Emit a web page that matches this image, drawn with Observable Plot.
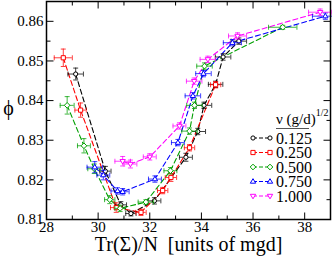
<!DOCTYPE html>
<html><head><meta charset="utf-8">
<script src="https://cdn.jsdelivr.net/npm/d3@7"></script>
<script src="https://cdn.jsdelivr.net/npm/@observablehq/plot@0.6"></script>
<style>
body{margin:0;background:#fff;}
#wrap{position:relative;width:332px;height:258px;overflow:hidden;}
#wrap svg{position:absolute;left:0;top:0;}
</style></head><body><div id="wrap"></div>
<script>
// ---- data ----
const nuLabels = ["0.125", "0.250", "0.500", "0.750", "1.000"];
const seriesColors = ["#000000", "#ff0000", "#00a000", "#0000ff", "#ff00ff"];

const x0125 = [29.13, 30.28, 30.88, 31.27, 32.18, 33.40, 33.86, 34.10, 34.55, 34.84, 35.45];
const y0125 = [0.8467, 0.8222, 0.8137, 0.8115, 0.8147, 0.8257, 0.8322, 0.8388, 0.8441, 0.8510, 0.8550];
const xe0125 = [0.30, 0.22, 0.22, 0.20, 0.25, 0.25, 0.30, 0.30, 0.28, 0.30, 0.30];
const ye0125 = [0.0015, 0.0012, 0.0008, 0.0006, 0.0008, 0.0010, 0.0008, 0.0008, 0.0008, 0.0008, 0.0008];

const x0250 = [28.65, 29.32, 30.70, 31.66, 32.50, 32.82, 33.54, 34.55];
const y0250 = [0.8508, 0.8376, 0.8130, 0.8118, 0.8173, 0.8206, 0.8281, 0.8440];
const xe0250 = [0.35, 0.22, 0.22, 0.20, 0.20, 0.22, 0.20, 0.20];
const ye0250 = [0.0022, 0.0018, 0.0012, 0.0008, 0.0008, 0.0010, 0.0008, 0.0008];

const x0500 = [28.80, 29.45, 29.85, 30.45, 30.85, 31.85, 32.80, 33.54, 33.73, 34.12, 37.15];
const y0500 = [0.8388, 0.8286, 0.8228, 0.8150, 0.8128, 0.8144, 0.8223, 0.8323, 0.8388, 0.8487, 0.8585];
const xe0500 = [0.27, 0.25, 0.25, 0.20, 0.20, 0.30, 0.25, 0.30, 0.30, 0.30, 0.55];
const ye0500 = [0.0022, 0.0018, 0.0012, 0.0010, 0.0008, 0.0006, 0.0008, 0.0008, 0.0008, 0.0008, 0.0005];

const x0750 = [29.87, 30.20, 30.75, 30.95, 32.20, 33.09, 33.67, 34.08, 35.20, 38.80];
const y0750 = [0.8232, 0.8212, 0.8172, 0.8170, 0.8202, 0.8294, 0.8412, 0.8468, 0.8546, 0.8613];
const xe0750 = [0.30, 0.25, 0.25, 0.25, 0.25, 0.25, 0.30, 0.30, 0.35, 0.50];
const ye0750 = [0.0014, 0.0012, 0.0008, 0.0008, 0.0008, 0.0008, 0.0008, 0.0008, 0.0008, 0.0008];

const x1000 = [30.95, 31.25, 32.00, 33.15, 33.72, 34.25, 35.40, 38.60];
const y1000 = [0.8247, 0.8240, 0.8258, 0.8336, 0.8449, 0.8504, 0.8563, 0.8623];
const xe1000 = [0.30, 0.25, 0.25, 0.25, 0.30, 0.30, 0.35, 0.45];
const ye1000 = [0.0012, 0.0010, 0.0008, 0.0008, 0.0008, 0.0008, 0.0008, 0.0008];

const xMajorTicks = [28, 30, 32, 34, 36, 38];
const xMinorTicks = [29, 31, 33, 35, 37, 39];
const yMajorTicks = [0.81, 0.82, 0.83, 0.84, 0.85, 0.86];
const yMinorTicks = [0.815, 0.825, 0.835, 0.845, 0.855, 0.865];
const xTitle = "Tr(Σ)/N  [units of mgd]";
const yTitle = "ϕ";
const legendTitle = "ν (g/d)";
const legendSup = "1/2";

// ---- build table ----
const raw = [
  [x0125, y0125, xe0125, ye0125],
  [x0250, y0250, xe0250, ye0250],
  [x0500, y0500, xe0500, ye0500],
  [x0750, y0750, xe0750, ye0750],
  [x1000, y1000, xe1000, ye1000]
];
const series = raw.map(([xs, ys, xes, yes], i) =>
  xs.map((x, j) => ({s: nuLabels[i], x, y: ys[j], xe: xes[j], ye: yes[j]})));

// ---- symbols ----
const mk = f => ({draw(ctx, size) { const r = Math.sqrt(size / Math.PI); f(ctx, r); }});
const symCircle = mk((c, r) => { c.moveTo(r, 0); c.arc(0, 0, r, 0, 2 * Math.PI); c.closePath(); });
const symSquare = mk((c, r) => { c.rect(-r, -r, 2 * r, 2 * r); });
const symDiamond = mk((c, r) => { r *= 1.35; c.moveTo(0, -r); c.lineTo(r, 0); c.lineTo(0, r); c.lineTo(-r, 0); c.closePath(); });
const symTriUp = mk((c, r) => { r *= 1.35; c.moveTo(0, -r); c.lineTo(r * 0.95, r * 0.6); c.lineTo(-r * 0.95, r * 0.6); c.closePath(); });
const symTriDown = mk((c, r) => { r *= 1.35; c.moveTo(0, r); c.lineTo(r * 0.95, -r * 0.6); c.lineTo(-r * 0.95, -r * 0.6); c.closePath(); });
const symbols = [symCircle, symSquare, symDiamond, symTriUp, symTriDown];
const vSeg = (a, b) => ({draw(c) { c.moveTo(0, a); c.lineTo(0, b); }});
const hSeg = (a, b) => ({draw(c) { c.moveTo(a, 0); c.lineTo(b, 0); }});
const capV = vSeg(-2.5, 2.5), capH = hSeg(-2.5, 2.5);

const dash = "5,3";
const marks = [];
series.forEach((data, i) => {
  const col = seriesColors[i];
  marks.push(Plot.line(data, {x: "x", y: "y", stroke: col, strokeWidth: 1.1, strokeDasharray: dash}));
});
series.forEach((data, i) => {
  const col = seriesColors[i];
  marks.push(
    Plot.ruleY(data, {y: "y", x1: d => d.x - d.xe, x2: d => d.x + d.xe, stroke: col, strokeWidth: 1, strokeOpacity: 0.75}),
    Plot.ruleX(data, {x: "x", y1: d => d.y - d.ye, y2: d => d.y + d.ye, stroke: col, strokeWidth: 1, strokeOpacity: 0.75}),
    Plot.dot(data, {x: d => d.x - d.xe, y: "y", symbol: capV, r: 1, stroke: col, fill: "none", strokeWidth: 1, strokeOpacity: 0.75}),
    Plot.dot(data, {x: d => d.x + d.xe, y: "y", symbol: capV, r: 1, stroke: col, fill: "none", strokeWidth: 1, strokeOpacity: 0.75}),
    Plot.dot(data, {x: "x", y: d => d.y - d.ye, symbol: capH, r: 1, stroke: col, fill: "none", strokeWidth: 1, strokeOpacity: 0.75}),
    Plot.dot(data, {x: "x", y: d => d.y + d.ye, symbol: capH, r: 1, stroke: col, fill: "none", strokeWidth: 1, strokeOpacity: 0.75}),
    Plot.dot(data, {x: "x", y: "y", symbol: symbols[i], r: 2.1, stroke: col, fill: "white", strokeWidth: 1})
  );
});

// inward ticks on all four sides
const tk = (len) => ({
  bottom: vSeg(0, -len), top: vSeg(0, len), left: hSeg(0, len), right: hSeg(0, -len)
});
const T7 = tk(7), T4 = tk(4);
for (const side of ["bottom", "top"]) {
  marks.push(Plot.dot(xMajorTicks, {x: d => d, frameAnchor: side, symbol: T7[side], r: 1, stroke: "black", fill: "none", strokeWidth: 1}));
  marks.push(Plot.dot(xMinorTicks, {x: d => d, frameAnchor: side, symbol: T4[side], r: 1, stroke: "black", fill: "none", strokeWidth: 1}));
}
for (const side of ["left", "right"]) {
  marks.push(Plot.dot(yMajorTicks, {y: d => d, frameAnchor: side, symbol: T7[side], r: 1, stroke: "black", fill: "none", strokeWidth: 1}));
  marks.push(Plot.dot(yMinorTicks, {y: d => d, frameAnchor: side, symbol: T4[side], r: 1, stroke: "black", fill: "none", strokeWidth: 1}));
}
marks.push(
  Plot.frame({stroke: "black", strokeWidth: 1.5}),
  Plot.axisX({ticks: xMajorTicks, tickSize: 0, tickPadding: 2, tickFormat: d => String(d), label: null, fontSize: 15}),
  Plot.axisY({ticks: yMajorTicks, tickSize: 0, tickPadding: 3, tickFormat: d3.format(".2f"), label: null, fontSize: 15}),
  Plot.text([xTitle], {text: d => d, frameAnchor: "bottom", lineAnchor: "middle", textAnchor: "middle", dy: 25, fontSize: 20, fill: "black"}),
  Plot.text([yTitle], {text: d => d, frameAnchor: "left", lineAnchor: "middle", textAnchor: "middle", dx: -38, dy: -2, fontSize: 20, fill: "black"})
);

const chart = Plot.plot({
  width: 332, height: 258,
  marginLeft: 46, marginRight: 2, marginTop: 1, marginBottom: 39,
  style: {fontFamily: "'Liberation Serif', 'Times New Roman', serif", fontSize: "15px", color: "black", background: "white"},
  x: {domain: [28, 39]},
  y: {domain: [0.81, 0.865]},
  marks
});
const wrap = document.getElementById("wrap");
wrap.appendChild(chart);

// ---- legend overlay ----
const lg = d3.select(wrap).append("svg").attr("width", 332).attr("height", 258)
  .style("font-family", "'Liberation Serif', 'Times New Roman', serif");
const tt = lg.append("text").attr("x", 276).attr("y", 124).attr("font-size", 15).attr("fill", "black");
tt.append("tspan").text(legendTitle);
tt.append("tspan").attr("dy", -8).attr("font-size", 10).text(legendSup);
lg.append("line").attr("x1", 276).attr("x2", 309).attr("y1", 128.5).attr("y2", 128.5).attr("stroke", "#555").attr("stroke-width", 1);
const rowY = [138, 152.5, 167, 181.5, 196];
nuLabels.forEach((lab, i) => {
  const y = rowY[i], col = seriesColors[i];
  lg.append("line").attr("x1", 253).attr("x2", 270).attr("y1", y).attr("y2", y)
    .attr("stroke", col).attr("stroke-width", 1.1).attr("stroke-dasharray", "4,2");
  const p = d3.path();
  symbols[i].draw(p, 2.1 * 2.1 * Math.PI);
  for (const sx of [253, 270]) {
    lg.append("path").attr("d", p.toString()).attr("transform", `translate(${sx},${y})`)
      .attr("stroke", col).attr("fill", "white").attr("stroke-width", 1);
  }
  lg.append("text").attr("x", 276).attr("y", y + 5.5).attr("font-size", 16).attr("fill", "black").text(lab);
});
</script></body></html>
